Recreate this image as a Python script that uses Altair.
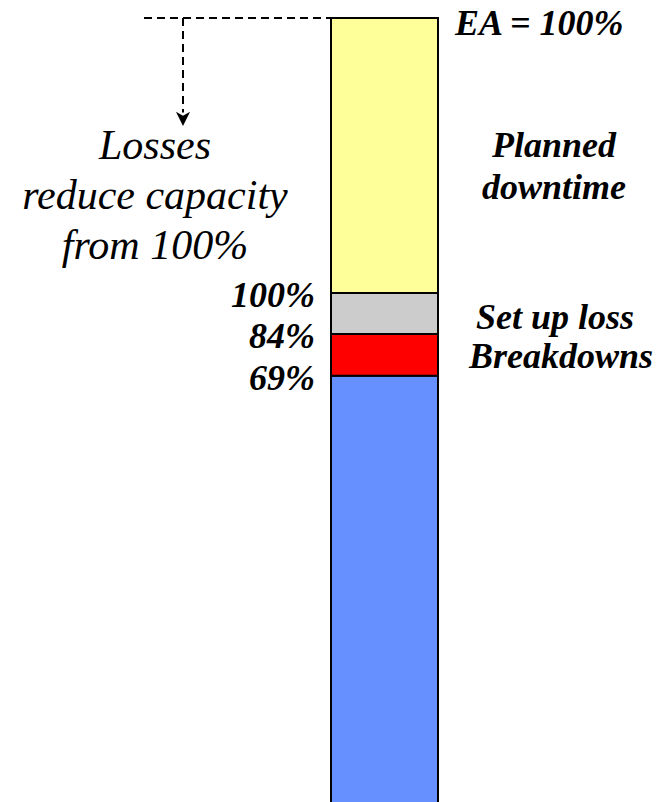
import altair as alt
import pandas as pd

# Capacity bar segments, bottom to top (share of the bar, in %)
segments = ["Running", "Breakdowns", "Set up loss", "Planned downtime"]
shares = [54.6, 5.3, 5.2, 34.9]
colors = ["#6690FF", "#FF0000", "#CCCCCC", "#FFFF99"]

# Percent labels printed at the top edge of the lower three segments
edge_segments = ["Set up loss", "Breakdowns", "Running"]
edge_labels = ["100%", "84%", "69%"]

df = pd.DataFrame({"segment": segments, "share": shares})
df["start"] = df["share"].cumsum() - df["share"]
df["end"] = df["share"].cumsum()
df["mid"] = (df["start"] + df["end"]) / 2
df["bar"] = "EA"

edges = df.set_index("segment").loc[edge_segments].reset_index()
edges["label"] = edge_labels

W, H = 659, 802
# the bar runs on past the bottom edge of the view
bottom_px = H + 4
top_px = 18
k = (bottom_px - top_px) / 100
ymax = bottom_px / k
yscale = alt.Scale(domain=[0, ymax], range=[bottom_px, 0], nice=False, zero=False)

base = alt.Chart(df)

bar = base.mark_bar(stroke="black", strokeWidth=2).encode(
    x=alt.X("bar:N", axis=None,
            scale=alt.Scale(range=[331, 438], paddingInner=0, paddingOuter=0)),
    y=alt.Y("start:Q", axis=None, scale=yscale),
    y2="end:Q",
    color=alt.Color("segment:N", legend=None,
                    scale=alt.Scale(domain=segments, range=colors)),
)

dash = dict(strokeDash=[8, 5], strokeWidth=2, color="black")
top_line = alt.Chart(df.head(1)).mark_rule(**dash).encode(
    x=alt.value(144), x2=alt.value(331), y=alt.datum(100, scale=yscale)
)
drop_line = alt.Chart(df.head(1)).mark_rule(**dash).encode(
    x=alt.value(183), y=alt.datum(100), y2=alt.datum(88.0)
)
arrow = alt.Chart(df.head(1)).mark_point(
    shape="M-1,-1 L0,-0.45 L1,-1 L0,1 Z", filled=True, color="black",
    opacity=1, size=200,
).encode(x=alt.value(183), y=alt.datum(87.2))

serif = "Liberation Serif"
bold = dict(font=serif, fontStyle="italic", fontWeight="bold", fontSize=36,
            color="black")

edge_text = alt.Chart(edges).mark_text(align="right", baseline="middle",
                                       dy=3, **bold).encode(
    x=alt.value(315), y=alt.Y("end:Q"), text="label:N"
)

ea_text = alt.Chart(df.head(1)).mark_text(align="left", baseline="middle",
                                          dy=6, **bold).encode(
    x=alt.value(455), y=alt.datum(100), text=alt.value("EA = 100%")
)

planned = alt.Chart(df[df.segment == "Planned downtime"]).mark_text(
    align="center", baseline="middle", dy=-10, lineHeight=42, **bold
).encode(x=alt.value(554), y="mid:Q", text=alt.value(["Planned", "downtime"]))

setup = alt.Chart(df[df.segment == "Set up loss"]).mark_text(
    align="center", baseline="middle", dy=4, **bold
).encode(x=alt.value(555), y="mid:Q", text=alt.value("Set up loss"))

breakdowns = alt.Chart(df[df.segment == "Breakdowns"]).mark_text(
    align="center", baseline="middle", dy=2, **bold
).encode(x=alt.value(561), y="mid:Q", text=alt.value("Breakdowns"))

losses = alt.Chart(df.head(1)).mark_text(
    align="center", baseline="alphabetic", font=serif, fontStyle="italic",
    fontSize=42, lineHeight=50, color="black"
).encode(
    x=alt.value(155), y=alt.value(159),
    text=alt.value(["Losses", "reduce capacity", "from 100%"]),
)

chart = alt.layer(
    bar, top_line, drop_line, arrow, edge_text, ea_text, planned, setup,
    breakdowns, losses
).properties(
    width=W, height=H, padding=0, autosize=alt.AutoSizeParams(type="none")
).configure_view(stroke=None)

chart.save("out.html", embed_options={"renderer": "svg", "actions": False})
